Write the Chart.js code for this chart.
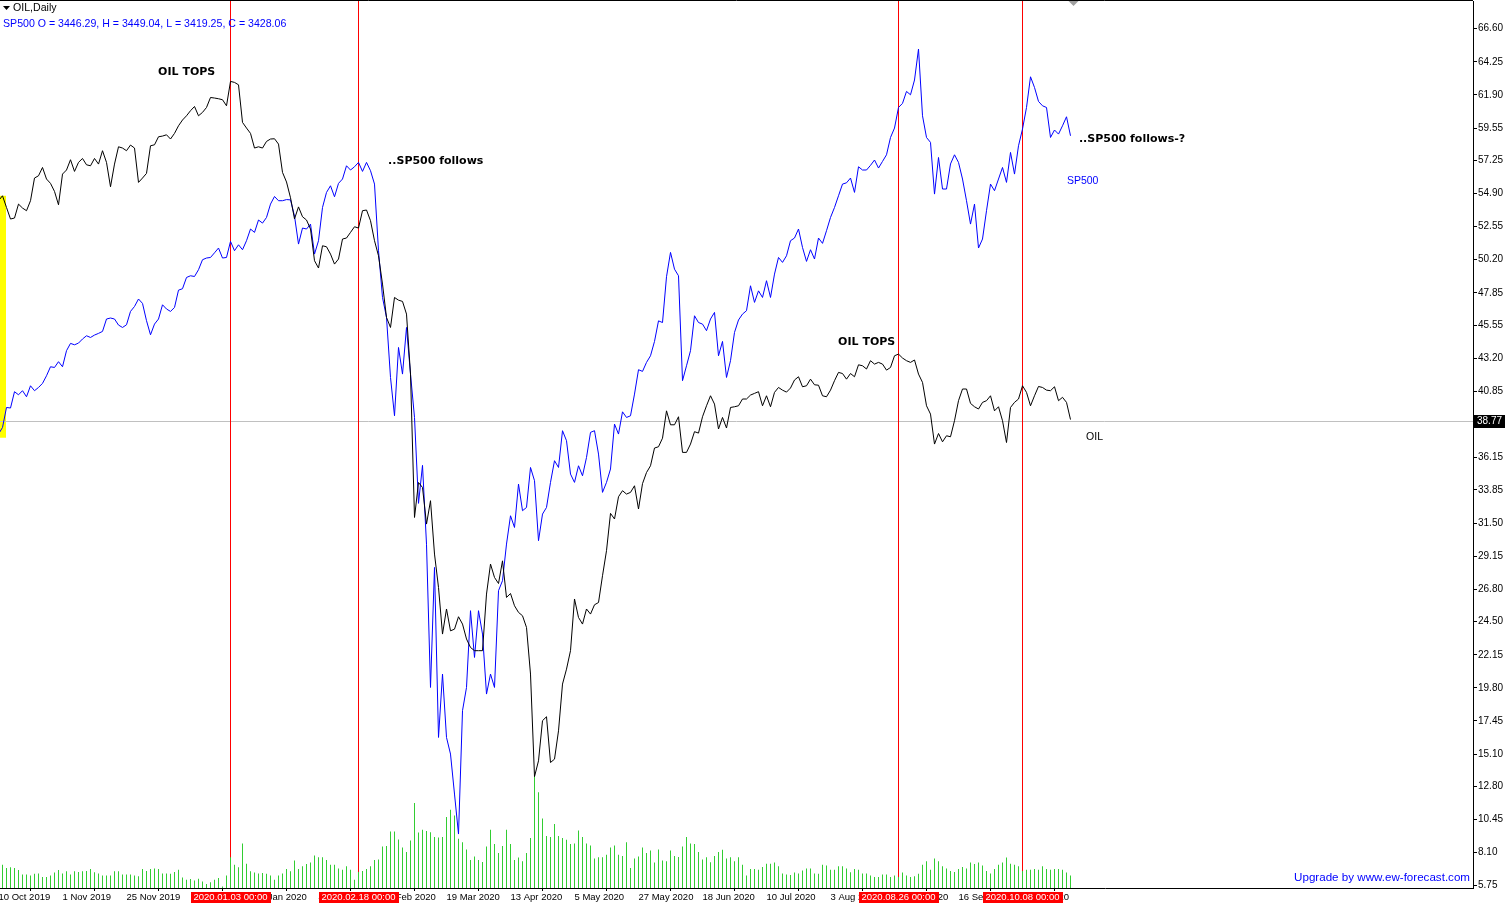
<!DOCTYPE html>
<html>
<head>
<meta charset="utf-8">
<script src="https://cdn.jsdelivr.net/npm/chart.js@4.4.0/dist/chart.umd.min.js"></script>
<style>
  html, body { margin: 0; padding: 0; background: #fff; }
  canvas { display: block; }
</style>
</head>
<body>
<canvas id="chart" width="1508" height="909"></canvas>
<script>
// OIL daily closes, one per bar, starting 10 Oct 2019
const oil = [
  54.39, 54.74, 53.91, 53.09, 53.16, 54.15, 53.87, 53.68, 54.39, 56.00,
  56.16, 56.75, 55.93, 55.62, 55.05, 54.10, 56.28, 56.57, 57.30, 56.47,
  57.11, 57.39, 56.94, 56.87, 57.39, 56.99, 57.94, 57.11, 55.38, 56.99,
  58.22, 58.13, 57.94, 58.34, 58.13, 55.69, 56.00, 56.33, 58.29, 58.36,
  58.93, 58.98, 59.07, 58.77, 59.17, 59.71, 60.12, 60.42, 60.78, 61.08,
  60.42, 60.66, 61.01, 61.72, 61.68, 61.63, 61.56, 61.13, 62.86, 62.79,
  62.62, 59.95, 59.55, 59.17, 58.13, 58.22, 58.13, 58.60, 58.77, 58.79,
  58.41, 56.40, 55.72, 54.60, 53.10, 53.95, 53.25, 53.02, 52.38, 50.13,
  49.61, 51.19, 51.12, 50.60, 49.89, 50.25, 51.67, 51.74, 52.14, 52.54,
  52.45, 53.68, 53.73, 52.97, 51.55, 50.48, 48.47, 46.10, 45.39, 47.52,
  47.33, 47.24, 46.34, 42.08, 31.90, 34.38, 34.03, 31.43, 33.09, 29.30,
  26.93, 23.62, 25.40, 23.85, 23.97, 24.85, 24.33, 23.27, 22.67, 22.44,
  22.44, 22.44, 26.46, 28.59, 27.64, 27.21, 28.82, 26.22, 26.50, 25.63,
  25.16, 24.92, 24.09, 20.78, 13.50, 14.62, 17.47, 17.75, 14.50, 14.74,
  16.75, 20.07, 21.13, 22.44, 26.11, 24.80, 24.33, 25.40, 25.04, 25.70,
  25.86, 27.76, 29.54, 32.19, 31.79, 33.37, 33.80, 33.56, 33.68, 34.15,
  32.50, 34.30, 35.09, 35.57, 36.83, 36.92, 37.53, 39.47, 38.48, 38.48,
  39.05, 36.52, 36.52, 37.11, 37.99, 37.89, 39.05, 39.83, 40.54, 39.95,
  38.18, 39.00, 38.25, 39.71, 39.76, 39.83, 40.31, 40.31, 40.59, 40.71,
  40.83, 39.83, 40.54, 39.76, 40.78, 41.13, 40.94, 40.80, 41.09, 41.66,
  41.89, 41.18, 41.25, 41.72, 41.32, 41.29, 40.54, 40.47, 40.94, 41.61,
  42.20, 42.12, 41.72, 42.12, 41.89, 42.74, 42.67, 42.44, 43.03, 42.79,
  42.91, 42.79, 42.36, 42.55, 43.38, 43.50, 43.22, 43.03, 42.91, 43.08,
  42.08, 41.49, 39.83, 39.24, 37.11, 37.86, 37.27, 37.70, 37.63, 38.77,
  40.19, 41.02, 41.02, 40.00, 39.76, 39.60, 40.07, 40.19, 40.54, 39.47,
  39.76, 38.77, 37.22, 39.71, 40.07, 40.31, 41.25, 40.78, 39.83, 40.54,
  41.20, 41.13, 40.94, 40.90, 41.18, 40.19, 40.43, 40.07, 38.85
];

const sp500 = [
  37.82, 38.29, 39.71, 39.67, 40.83, 40.61, 40.90, 40.47, 41.25, 40.90,
  41.13, 41.42, 41.96, 42.60, 42.55, 42.96, 42.60, 43.74, 44.26, 44.16,
  44.28, 44.57, 44.80, 44.68, 44.85, 44.97, 45.11, 45.99, 46.06, 45.99,
  45.56, 45.39, 45.58, 46.53, 46.88, 47.41, 47.10, 45.87, 44.87, 45.63,
  45.99, 47.00, 46.70, 46.53, 46.81, 48.04, 48.14, 48.94, 49.06, 49.01,
  49.49, 50.20, 50.32, 50.36, 50.69, 51.03, 50.32, 50.36, 51.50, 50.84,
  51.26, 50.91, 51.55, 52.38, 52.14, 53.02, 52.80, 53.20, 54.15, 54.69,
  54.39, 54.39, 54.47, 54.45, 53.30, 51.31, 52.45, 52.38, 52.73, 50.60,
  51.55, 53.91, 54.98, 55.45, 54.67, 55.62, 55.93, 56.87, 56.57, 56.80,
  57.11, 56.47, 57.11, 56.52, 55.57, 50.84, 47.52, 46.10, 41.84, 39.12,
  43.97, 42.08, 45.39, 42.08, 39.00, 32.90, 35.60, 30.00, 19.83, 28.35,
  16.28, 20.78, 16.28, 15.10, 12.26, 9.42, 18.18, 19.83, 25.28, 21.96,
  25.28, 23.62, 19.36, 20.78, 19.83, 26.70, 27.41, 30.01, 32.02, 31.19,
  34.27, 32.38, 32.61, 35.45, 34.51, 30.25, 32.14, 32.61, 34.39, 35.93,
  35.45, 38.06, 37.35, 34.98, 34.39, 35.57, 34.86, 36.16, 37.94, 38.06,
  36.40, 33.68, 34.39, 35.34, 38.53, 37.82, 39.40, 39.00, 39.12, 40.66,
  42.39, 42.27, 42.91, 43.38, 44.40, 45.86, 45.74, 48.99, 50.72, 49.53,
  49.06, 41.61, 42.67, 43.74, 46.22, 45.74, 45.63, 45.16, 45.99, 46.46,
  43.38, 44.40, 41.84, 43.03, 45.04, 45.92, 46.34, 46.58, 48.35, 47.17,
  47.99, 47.52, 48.71, 47.52, 49.18, 50.36, 50.01, 50.48, 51.55, 51.74,
  52.38, 51.07, 50.08, 50.91, 50.25, 51.74, 51.36, 52.26, 53.20, 53.91,
  54.74, 55.57, 55.66, 56.00, 54.98, 56.80, 56.57, 56.57, 56.90, 57.28,
  56.71, 57.18, 57.65, 58.88, 59.55, 61.01, 61.30, 62.15, 61.91, 62.96,
  65.16, 60.42, 58.88, 58.53, 54.86, 57.46, 55.22, 55.22, 57.00, 57.65,
  57.11, 55.93, 54.39, 52.73, 54.15, 51.03, 51.67, 53.68, 55.57, 55.10,
  55.93, 56.75, 55.69, 57.82, 56.28, 58.29, 59.48, 61.01, 63.19, 62.43,
  61.44, 61.13, 61.01, 58.88, 59.41, 59.12, 59.71, 60.35, 59.00
];

// tick volume per bar
const volume = [
  2000, 2320, 2000, 2070, 2000, 1790, 1360, 1360, 1250, 1430,
  1460, 1110, 1110, 1250, 1540, 1790, 1460, 1680, 1360, 1680,
  1610, 1680, 1710, 1890, 1570, 1460, 1250, 1250, 1250, 1680,
  1680, 1360, 1360, 1360, 1250, 1180, 1890, 1710, 1890, 1960,
  1890, 1460, 1460, 1430, 1610, 1820, 1040, 820, 890, 750,
  930, 640, 390, 570, 820, 1000, 150, 1250, 3070, 2320,
  2070, 4460, 2430, 1680, 1540, 1460, 1500, 1430, 1250, 820,
  1250, 1460, 1890, 1680, 2750, 1890, 2180, 2390, 2540, 3250,
  3070, 3070, 2790, 2320, 2320, 1960, 1820, 2180, 1820, 820,
  1610, 1710, 1890, 2180, 2790, 2860, 4140, 4210, 5640, 5640,
  4860, 4040, 3610, 4750, 8500, 5540, 5820, 5710, 5570, 5110,
  5040, 5110, 7110, 7820, 7250, 4930, 4570, 3860, 2790, 3140,
  2790, 2610, 4140, 5820, 4390, 3500, 4210, 5820, 4390, 2790,
  3040, 2680, 3500, 5000, 11300, 9570, 6960, 5210, 5110, 6400,
  5210, 5000, 4820, 4390, 4460, 5750, 5110, 4460, 4250, 2960,
  3070, 3070, 3320, 4040, 4250, 3320, 3210, 4570, 2000, 2960,
  3140, 4040, 3500, 3750, 2540, 3860, 2750, 2680, 3750, 3210,
  3110, 4140, 5110, 4460, 4390, 3610, 2860, 3070, 2570, 3210,
  3610, 3820, 2960, 3070, 2680, 3070, 2320, 1250, 1890, 1890,
  1820, 2110, 2430, 2430, 2540, 2180, 1460, 1360, 1290, 1540,
  1460, 1750, 1960, 1960, 1460, 1430, 2320, 2250, 1820, 1820,
  2180, 2180, 1960, 1570, 1890, 1820, 1460, 1460, 1250, 1110,
  1110, 1360, 1360, 1110, 1250, 1110, 1540, 1250, 1110, 1180,
  1430, 2320, 2680, 1820, 2960, 2680, 2180, 1960, 1710, 1610,
  1890, 2110, 1960, 2540, 2390, 2540, 2250, 1710, 1460, 1890,
  2320, 2540, 3040, 2430, 2320, 2180, 1710, 1820, 1820, 1890,
  1820, 2180, 1890, 1820, 1890, 1890, 1820, 1540, 1250
];

// time axis labels, one every 16 bars
const dateLabels = [
  '10 Oct 2019', '1 Nov 2019', '25 Nov 2019', '18 Dec 2019', '13 Jan 2020',
  '4 Feb 2020', '26 Feb 2020', '19 Mar 2020', '13 Apr 2020', '5 May 2020',
  '27 May 2020', '18 Jun 2020', '10 Jul 2020', '3 Aug 2020', '26 Aug 2020',
  '16 Sep 2020', '8 Oct 2020'
];
const labelEvery = 16;

// price scale labels
const priceTicks = [
  66.60, 64.25, 61.90, 59.55, 57.25, 54.90, 52.55, 50.20, 47.85, 45.55,
  43.20, 40.85, 36.15, 33.85, 31.50, 29.15, 26.80, 24.50, 22.15, 19.80,
  17.45, 15.10, 12.80, 10.45, 8.10, 5.75
];

// vertical lines (bar index) and their time labels
const markerBars = [58, 90, 225, 256];
const markerLabels = ['2020.01.03 00:00', '2020.02.18 00:00', '2020.08.26 00:00', '2020.10.08 00:00'];

const lastPrice = 38.77;
const stripTop = 54.74, stripBottom = 37.56;   // yellow strip at left edge

const notes = [
  { text: 'OIL TOPS', bar: 39.9, price: 63.55, bold: true, color: '#000' },
  { text: '..SP500 follows', bar: 97.4, price: 57.23, bold: true, color: '#000' },
  { text: 'OIL TOPS', bar: 209.9, price: 44.38, bold: true, color: '#000' },
  { text: '..SP500 follows-?', bar: 270.1, price: 58.79, bold: true, color: '#000' },
  { text: 'SP500', bar: 267.1, price: 55.81, bold: false, color: '#0000ff' },
  { text: 'OIL', bar: 271.9, price: 37.63, bold: false, color: '#000' }
];

const uiFont = 'Liberation Sans';

const mt4Decor = {
  id: 'mt4Decor',
  beforeDatasetsDraw(chart) {
    const { ctx, chartArea: a, scales: { x, y } } = chart;
    ctx.save();
    ctx.fillStyle = '#ffff00';
    const yt = y.getPixelForValue(stripTop), yb = y.getPixelForValue(stripBottom);
    ctx.fillRect(a.left, yt, 6, yb - yt);

    const py = Math.round(y.getPixelForValue(lastPrice)) + 0.5;
    ctx.strokeStyle = '#c0c0c0';
    ctx.lineWidth = 1;
    ctx.beginPath(); ctx.moveTo(a.left, py); ctx.lineTo(a.right, py); ctx.stroke();

    ctx.strokeStyle = '#ff0000';
    markerBars.forEach(b => {
      const px = x.getPixelForValue(b);
      ctx.beginPath(); ctx.moveTo(px, 0); ctx.lineTo(px, a.bottom); ctx.stroke();
    });
    ctx.restore();
  },
  afterDraw(chart) {
    const { ctx, chartArea: a, scales: { x, y } } = chart;
    ctx.save();

    // frame top
    ctx.strokeStyle = '#000';
    ctx.lineWidth = 1;
    ctx.beginPath(); ctx.moveTo(0, 0.5); ctx.lineTo(a.right, 0.5); ctx.stroke();

    // marker time labels
    ctx.font = '9.5px "' + uiFont + '"';
    ctx.textBaseline = 'middle';
    ctx.textAlign = 'center';
    markerBars.forEach((b, k) => {
      const px = x.getPixelForValue(b);
      const w = ctx.measureText(markerLabels[k]).width + 6;
      ctx.fillStyle = '#ff0000';
      ctx.fillRect(Math.round(px - w / 2), a.bottom + 4, Math.round(w), 11);
      ctx.fillStyle = '#fff';
      ctx.fillText(markerLabels[k], px, a.bottom + 9.5);
    });

    // bid label
    const py = Math.round(y.getPixelForValue(lastPrice));
    ctx.fillStyle = '#000';
    ctx.fillRect(a.right + 1, py - 6, 31, 13);
    ctx.fillStyle = '#fff';
    ctx.textAlign = 'left';
    ctx.font = '10px "' + uiFont + '"';
    ctx.fillText(lastPrice.toFixed(2), a.right + 4, py + 0.5);

    // annotations
    notes.forEach(n => {
      ctx.font = n.bold ? 'bold 11px "DejaVu Sans"' : '10.5px "' + uiFont + '"';
      ctx.fillStyle = n.color;
      ctx.fillText(n.text, x.getPixelForValue(n.bar), y.getPixelForValue(n.price));
    });

    // header
    ctx.fillStyle = '#000';
    ctx.beginPath(); ctx.moveTo(3, 6); ctx.lineTo(10, 6); ctx.lineTo(6.5, 10); ctx.closePath(); ctx.fill();
    ctx.font = '10.6px "' + uiFont + '"';
    ctx.fillText('OIL,Daily', 13, 8.5);
    ctx.fillStyle = '#0000ff';
    ctx.fillText('SP500 O = 3446.29, H = 3449.04, L = 3419.25, C = 3428.06', 3, 24.5);

    // footer credit
    ctx.textAlign = 'right';
    ctx.font = '11.6px "' + uiFont + '"';
    ctx.fillText('Upgrade by www.ew-forecast.com', 1470, 878);

    // chart shift marker
    const sx = x.getPixelForValue(oil.length - 1) + 3;
    ctx.fillStyle = '#a0a0a0';
    ctx.beginPath(); ctx.moveTo(sx - 5, 1); ctx.lineTo(sx + 5, 1); ctx.lineTo(sx, 6); ctx.closePath(); ctx.fill();
    ctx.restore();
  }
};

const toPoints = arr => arr.map((v, i) => ({ x: i, y: v }));
const plotHeight = 887;
const tallestBarPx = 113;

new Chart(document.getElementById('chart'), {
  type: 'line',
  data: {
    datasets: [
      { type: 'line', label: 'OIL', data: toPoints(oil), borderColor: '#000000', borderWidth: 1,
        pointRadius: 0, tension: 0, yAxisID: 'y', order: 1 },
      { type: 'line', label: 'SP500', data: toPoints(sp500), borderColor: '#0000ff', borderWidth: 1,
        pointRadius: 0, tension: 0, yAxisID: 'y', order: 2 },
      { type: 'bar', label: 'Volume', data: toPoints(volume), backgroundColor: '#32cd32',
        barThickness: 1, inflateAmount: 0, borderWidth: 0, yAxisID: 'vol', order: 3 }
    ]
  },
  options: {
    responsive: false,
    animation: false,
    devicePixelRatio: 1,
    layout: { padding: { top: 1, left: 0, right: 0, bottom: 0 } },
    plugins: { legend: { display: false }, tooltip: { enabled: false } },
    scales: {
      x: {
        type: 'linear', min: 0.375, max: 368.625, offset: false,
        afterBuildTicks: s => { s.ticks = dateLabels.map((_, k) => ({ value: k * labelEvery })); },
        afterFit: s => { s.height = 21; s.paddingLeft = 0; s.paddingRight = 0; },
        grid: { display: true, drawOnChartArea: false, tickLength: 3, color: '#000' },
        border: { display: true, color: '#000' },
        ticks: {
          autoSkip: false, maxRotation: 0, minRotation: 0, align: 'start', padding: 1,
          color: '#000', font: { family: uiFont, size: 9.5 },
          callback: v => dateLabels[Math.round(v / labelEvery)]
        }
      },
      y: {
        position: 'right', min: 5.59, max: 68.57,
        afterBuildTicks: s => { s.ticks = priceTicks.map(v => ({ value: v })); },
        afterFit: s => { s.width = 35; s.paddingTop = 0; s.paddingBottom = 0; },
        grid: { display: true, drawOnChartArea: false, tickLength: 4, color: '#000' },
        border: { display: true, color: '#000' },
        ticks: {
          autoSkip: false, padding: 1, color: '#000', font: { family: uiFont, size: 10 },
          callback: v => v.toFixed(2)
        }
      },
      vol: {
        display: false, min: 0, max: Math.max(...volume) * plotHeight / tallestBarPx
      }
    }
  },
  plugins: [mt4Decor]
});
</script>
</body>
</html>
